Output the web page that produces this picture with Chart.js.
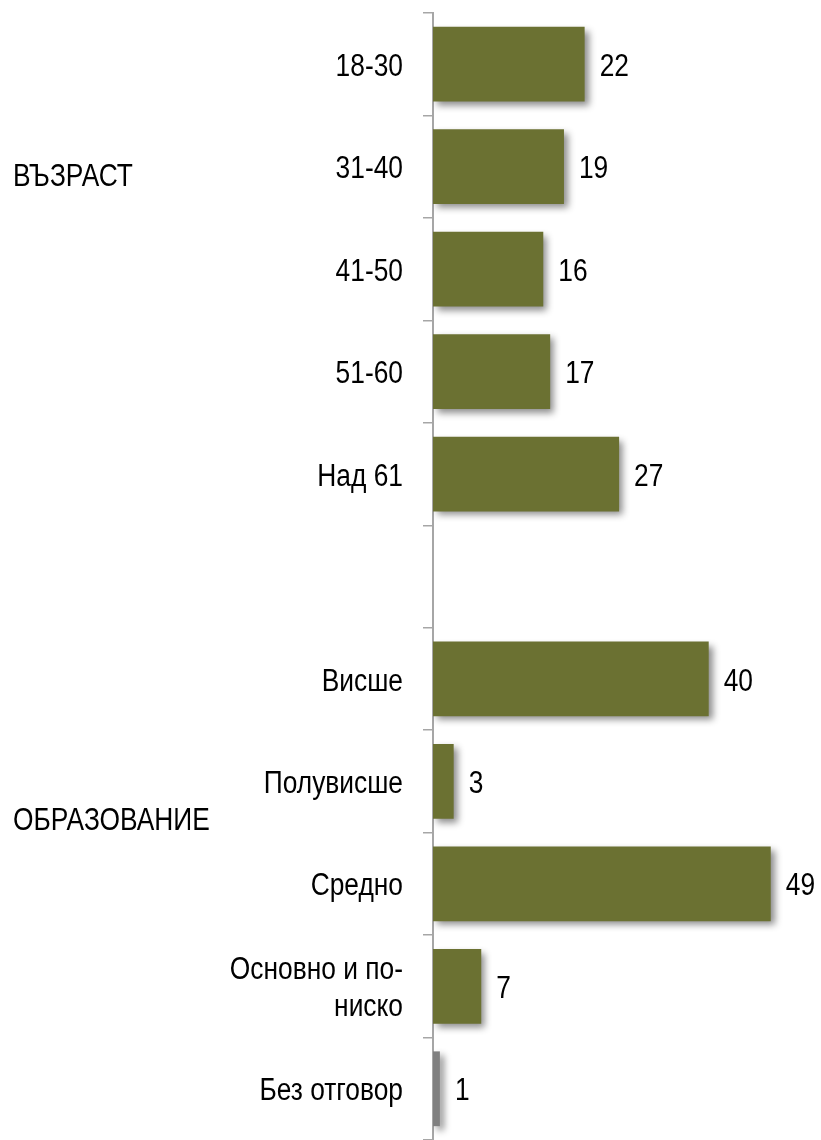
<!DOCTYPE html>
<html>
<head>
<meta charset="utf-8">
<script src="https://cdn.jsdelivr.net/npm/chart.js@4"></script>
<style>
html,body{margin:0;padding:0;background:#fff;}
#wrap{width:821px;height:1140px;position:relative;}
</style>
</head>
<body>
<div id="wrap"><canvas id="c"></canvas></div>
<script>
const categories = ['18-30', '31-40', '41-50', '51-60', 'Над 61', '', 'Висше', 'Полувисше', 'Средно', ['Основно и по-', 'ниско'], 'Без отговор'];
const values = [22, 19, 16, 17, 27, null, 40, 3, 49, 7, 1];
const barColors = ['#6b7132', '#6b7132', '#6b7132', '#6b7132', '#6b7132', '#6b7132', '#6b7132', '#6b7132', '#6b7132', '#6b7132', '#808080'];
const groupLabels = ['ВЪЗРАСТ', 'ОБРАЗОВАНИЕ'];
const groupAnchors = [1.08, 7.36];

const FONT = "'Liberation Sans', Arial, sans-serif";
const FSIZE = 31;
const SX = 0.85;   // horizontal condensing (Arial Narrow look)
const LINE_H = 37;
const DY = 3;

function drawText(ctx, text, x, y, align) {
  ctx.save();
  ctx.translate(x, y + DY);
  ctx.scale(SX, 1);
  ctx.textAlign = align;
  ctx.fillText(text, 0, 0);
  ctx.restore();
}

const shadowPlugin = {
  id: 'barShadow',
  beforeDatasetsDraw(chart) {
    const ctx = chart.ctx;
    ctx.save();
    ctx.shadowColor = 'rgba(0,0,0,0.45)';
    ctx.shadowBlur = 7;
    ctx.shadowOffsetX = 4;
    ctx.shadowOffsetY = 4;
  },
  afterDatasetsDraw(chart) {
    chart.ctx.restore();
  }
};

const labelPlugin = {
  id: 'textLabels',
  afterDraw(chart) {
    const ctx = chart.ctx;
    const meta = chart.getDatasetMeta(0);
    const ys = chart.scales.y;
    ctx.save();
    ctx.font = FSIZE + 'px ' + FONT;
    ctx.fillStyle = '#000';
    ctx.textBaseline = 'middle';
    meta.data.forEach((bar, i) => {
      const v = values[i];
      if (v === null || v === undefined) return;
      drawText(ctx, String(v), bar.x + 15, bar.y, 'left');
    });
    const labelRight = ys.right - 30;
    categories.forEach((lab, i) => {
      const lines = Array.isArray(lab) ? lab : [lab];
      const yc = ys.getPixelForTick(i);
      const y0 = yc - (lines.length - 1) * LINE_H / 2;
      lines.forEach((ln, k) => drawText(ctx, ln, labelRight, y0 + k * LINE_H, 'right'));
    });
    groupLabels.forEach((t, i) => {
      const y = ys.getPixelForDecimal((groupAnchors[i] + 0.5) / categories.length);
      drawText(ctx, t, 13, y, 'left');
    });
    ctx.restore();
  }
};

new Chart(document.getElementById('c'), {
  type: 'bar',
  data: {
    labels: categories,
    datasets: [{
      data: values,
      backgroundColor: barColors,
      borderWidth: 0,
      barPercentage: 0.73,
      categoryPercentage: 1.0
    }]
  },
  options: {
    indexAxis: 'y',
    responsive: true,
    maintainAspectRatio: false,
    animation: false,
    layout: { padding: { top: 13, bottom: 0, left: 0, right: 2 } },
    plugins: { legend: { display: false }, tooltip: { enabled: false } },
    scales: {
      x: { display: false, min: 0, max: 56 },
      y: {
        afterFit(scale) { scale.width = 433; scale.paddingTop = 0; scale.paddingBottom = 0; },
        border: { display: true, color: '#a6a6a6', width: 2 },
        grid: { drawOnChartArea: false, drawTicks: true, tickLength: 10, color: '#a6a6a6', lineWidth: 1.5, offset: true },
        ticks: { display: false, autoSkip: false }
      }
    }
  },
  plugins: [shadowPlugin, labelPlugin]
});
</script>
</body>
</html>
